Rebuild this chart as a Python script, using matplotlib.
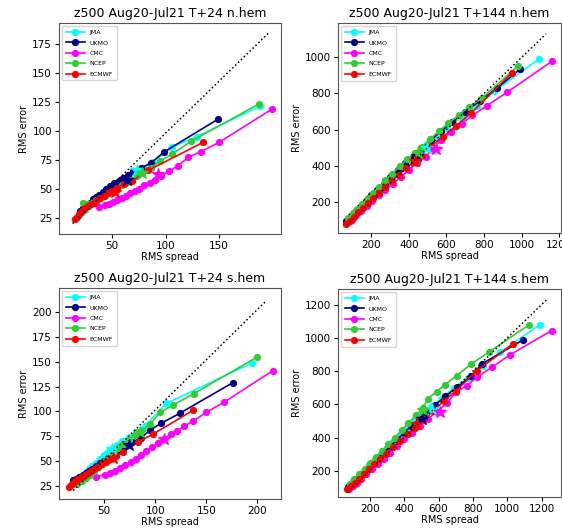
import numpy as np
import matplotlib
matplotlib.use("Agg")
import matplotlib.pyplot as plt

# Configuracion
#--------------------------------------
centres = ["JMA", "UKMO", "CMC", "NCEP", "ECMWF"]
colours = ["cyan", "darkblue", "magenta", "limegreen", "red"]
titles  = ["z500 Aug20-Jul21 T+24 n.hem", "z500 Aug20-Jul21 T+144 n.hem",
           "z500 Aug20-Jul21 T+24 s.hem", "z500 Aug20-Jul21 T+144 s.hem"]

# T+24 n.hem
#--------------------------------------
n24_jma_x  = [19, 22, 25, 28, 31, 34, 37, 40, 44, 48, 52, 56, 61, 66, 72, 79, 88, 106, 129, 188]
n24_jma_y  = [27, 30, 32, 35, 38, 40, 43, 45, 48, 51, 54, 56, 59, 62, 64, 68, 73, 86, 95, 121]
n24_ukmo_x = [20, 23, 26, 29, 32, 35, 38, 41, 44, 48, 52, 56, 60, 65, 70, 77, 86, 99, 149]
n24_ukmo_y = [31, 33, 36, 38, 41, 43, 45, 47, 50, 52, 55, 57, 59, 62, 65, 68, 72, 82, 110]
n24_cmc_x  = [38, 43, 47, 51, 55, 59, 63, 67, 71, 75, 80, 85, 90, 96, 103, 112, 121, 133, 150, 200]
n24_cmc_y  = [34, 36, 37, 39, 40, 42, 44, 46, 48, 50, 53, 55, 58, 61, 65, 70, 77, 82, 90, 119]
n24_ncep_x = [23, 27, 31, 35, 39, 43, 47, 51, 55, 59, 63, 68, 73, 78, 86, 95, 106, 124, 187]
n24_ncep_y = [38, 37, 38, 40, 42, 44, 46, 48, 51, 53, 55, 58, 61, 64, 68, 74, 80, 91, 123]
n24_ecm_x  = [15, 17, 19, 21, 23, 25, 27, 30, 33, 36, 39, 42, 46, 50, 55, 61, 69, 84, 135]
n24_ecm_y  = [24, 26, 28, 30, 32, 33, 35, 37, 38, 40, 42, 44, 46, 48, 51, 54, 57, 66, 90]
n24_star_x = [73, 64, 93, 78, 53]
n24_star_y = [66, 58, 63, 64, 47]

# T+144 n.hem
#--------------------------------------
n144_jma_x  = [70, 95, 120, 150, 180, 210, 245, 280, 320, 360, 400, 445, 490, 545, 605, 680, 760, 854, 1095]
n144_jma_y  = [100, 125, 150, 180, 210, 240, 275, 310, 350, 390, 430, 470, 510, 560, 610, 665, 730, 811, 993]
n144_ukmo_x = [65, 90, 115, 140, 170, 200, 230, 265, 300, 340, 380, 420, 465, 515, 570, 630, 700, 780, 870, 993]
n144_ukmo_y = [95, 120, 145, 172, 205, 235, 265, 300, 335, 375, 415, 450, 495, 540, 590, 640, 700, 760, 830, 936]
n144_cmc_x  = [70, 95, 120, 145, 175, 205, 240, 275, 315, 355, 400, 445, 490, 520, 570, 625, 680, 738, 815, 922, 1161]
n144_cmc_y  = [80, 100, 125, 150, 175, 205, 235, 265, 300, 335, 375, 415, 450, 490, 540, 585, 631, 678, 732, 806, 978]
n144_ncep_x = [75, 100, 125, 150, 180, 210, 240, 275, 310, 350, 390, 430, 470, 510, 560, 610, 665, 720, 790, 982]
n144_ncep_y = [110, 135, 160, 185, 220, 250, 280, 320, 355, 395, 435, 470, 505, 545, 590, 635, 680, 725, 775, 954]
n144_ecm_x  = [65, 85, 105, 130, 155, 180, 210, 240, 275, 310, 345, 385, 425, 470, 520, 580, 650, 730, 947]
n144_ecm_y  = [75, 95, 115, 140, 165, 190, 220, 250, 280, 315, 350, 385, 420, 460, 510, 560, 620, 690, 913]
n144_star_x = [495, 445, 545, 450, 432]
n144_star_y = [500, 455, 490, 470, 423]

# T+24 s.hem
#--------------------------------------
s24_jma_x  = [20, 23, 26, 29, 32, 35, 38, 42, 46, 50, 54, 58, 63, 68, 74, 81, 90, 111, 195]
s24_jma_y  = [27, 30, 33, 36, 39, 42, 45, 48, 52, 56, 59, 62, 66, 70, 74, 79, 85, 108, 149]
s24_ukmo_x = [20, 23, 26, 29, 32, 35, 38, 42, 46, 50, 54, 58, 63, 68, 77, 86, 95, 106, 124, 176]
s24_ukmo_y = [31, 32, 34, 36, 38, 40, 42, 45, 48, 50, 53, 56, 59, 62, 69, 73, 81, 88, 98, 129]
s24_cmc_x  = [42, 51, 56, 61, 66, 71, 76, 81, 86, 91, 97, 103, 109, 115, 121, 128, 137, 150, 167, 215]
s24_cmc_y  = [34, 36, 38, 40, 43, 46, 49, 52, 56, 60, 64, 68, 72, 77, 80, 85, 90, 99, 109, 141]
s24_ncep_x = [24, 28, 32, 36, 40, 44, 48, 52, 56, 60, 64, 69, 74, 80, 86, 95, 105, 117, 138, 200]
s24_ncep_y = [27, 30, 33, 36, 40, 44, 47, 51, 55, 59, 63, 67, 71, 76, 80, 87, 99, 106, 118, 155]
s24_ecm_x  = [16, 18, 20, 22, 25, 28, 31, 34, 37, 40, 44, 48, 52, 57, 62, 69, 83, 98, 137]
s24_ecm_y  = [24, 26, 28, 30, 32, 34, 36, 38, 40, 42, 44, 47, 49, 52, 55, 59, 69, 77, 101]
s24_star_x = [58, 74, 109, 85, 59]
s24_star_y = [62, 66, 72, 79, 53]

# T+144 s.hem
#--------------------------------------
s144_jma_x  = [80, 105, 135, 165, 195, 230, 265, 300, 340, 380, 420, 465, 510, 560, 620, 690, 770, 860, 960, 1188]
s144_jma_y  = [115, 140, 170, 200, 235, 270, 305, 340, 380, 420, 460, 500, 540, 590, 640, 700, 760, 830, 915, 1078]
s144_ukmo_x = [75, 100, 125, 155, 185, 215, 250, 285, 320, 360, 400, 440, 485, 530, 580, 640, 710, 790, 853, 1091]
s144_ukmo_y = [105, 130, 155, 185, 215, 245, 280, 315, 350, 390, 430, 470, 510, 550, 595, 650, 705, 770, 844, 988]
s144_cmc_x  = [80, 100, 125, 150, 180, 210, 245, 280, 320, 360, 400, 445, 490, 540, 590, 650, 701, 765, 824, 911, 1019, 1258]
s144_cmc_y  = [90, 110, 130, 155, 180, 210, 240, 275, 310, 350, 390, 430, 470, 515, 555, 610, 674, 714, 764, 824, 900, 1044]
s144_ncep_x = [85, 110, 140, 170, 200, 235, 270, 305, 345, 385, 425, 470, 512, 537, 590, 639, 707, 791, 892, 1126]
s144_ncep_y = [125, 150, 180, 215, 250, 285, 320, 360, 400, 445, 490, 535, 580, 634, 678, 720, 774, 844, 914, 1078]
s144_ecm_x  = [70, 90, 115, 140, 165, 195, 225, 260, 295, 335, 375, 420, 465, 515, 570, 630, 700, 824, 1034]
s144_ecm_y  = [90, 110, 130, 155, 180, 210, 240, 270, 305, 345, 380, 420, 460, 510, 560, 620, 680, 804, 964]
s144_star_x = [560, 502, 610, 512, 473]
s144_star_y = [575, 514, 555, 568, 484]

# linea punteada de referencia
diag_x = [[13, 196], [70, 1130], [20, 209], [70, 1233]]
diag_y = [[20, 184], [70, 1130], [20, 212], [70, 1233]]

panels = [
    ([(n24_jma_x, n24_jma_y), (n24_ukmo_x, n24_ukmo_y), (n24_cmc_x, n24_cmc_y),
      (n24_ncep_x, n24_ncep_y), (n24_ecm_x, n24_ecm_y)], n24_star_x, n24_star_y),
    ([(n144_jma_x, n144_jma_y), (n144_ukmo_x, n144_ukmo_y), (n144_cmc_x, n144_cmc_y),
      (n144_ncep_x, n144_ncep_y), (n144_ecm_x, n144_ecm_y)], n144_star_x, n144_star_y),
    ([(s24_jma_x, s24_jma_y), (s24_ukmo_x, s24_ukmo_y), (s24_cmc_x, s24_cmc_y),
      (s24_ncep_x, s24_ncep_y), (s24_ecm_x, s24_ecm_y)], s24_star_x, s24_star_y),
    ([(s144_jma_x, s144_jma_y), (s144_ukmo_x, s144_ukmo_y), (s144_cmc_x, s144_cmc_y),
      (s144_ncep_x, s144_ncep_y), (s144_ecm_x, s144_ecm_y)], s144_star_x, s144_star_y),
]

# posiciones de ejes en pixeles (left, top, right, bottom)
W, H = 562, 528
boxes  = [(59, 23, 281, 234), (338, 23, 561, 233), (59, 288, 281, 499), (338, 289, 561, 497)]
xlims  = [(0.3, 208), (22, 1210), (6, 223), (15, 1313)]
ylims  = [(11, 193), (26, 1191), (11.5, 224.5), (44, 1294)]
xticks = [[50, 100, 150], [200, 400, 600, 800, 1000, 1200], [50, 100, 150, 200], [200, 400, 600, 800, 1000, 1200]]
yticks = [[25, 50, 75, 100, 125, 150, 175], [200, 400, 600, 800, 1000],
          [25, 50, 75, 100, 125, 150, 175, 200], [200, 400, 600, 800, 1000, 1200]]

fig = plt.figure(figsize=(W / 100, H / 100), dpi=100)

for k in range(4):
    l, t, r, b = boxes[k]
    ax = fig.add_axes([l / W, 1 - b / H, (r - l) / W, (b - t) / H])
    series, sx, sy = panels[k]
    for i in range(5):
        xs, ys = series[i]
        ax.plot(xs, ys, '-o', color=colours[i], linewidth=1.2, markersize=4.2, label=centres[i])
    for i in range(5):
        ax.plot(sx[i], sy[i], '*', color=colours[i], markersize=9)
    ax.plot(diag_x[k], diag_y[k], 'k:', linewidth=1.1)
    ax.set_xlim(xlims[k])
    ax.set_ylim(ylims[k])
    ax.set_xticks(xticks[k])
    ax.set_yticks(yticks[k])
    ax.tick_params(labelsize=7.5, length=3, pad=2)
    ax.set_title(titles[k], fontsize=9, pad=4)
    ax.set_xlabel("RMS spread", fontsize=7, labelpad=1)
    ax.set_ylabel("RMS error", fontsize=7, labelpad=2)
    for sp in ax.spines.values():
        sp.set_color("#555555")
    ax.legend(loc="upper left", fontsize=4.5, handlelength=3, labelspacing=0.8,
              borderpad=0.6, markerscale=1.0)

fig.savefig("out.png", dpi=100)
